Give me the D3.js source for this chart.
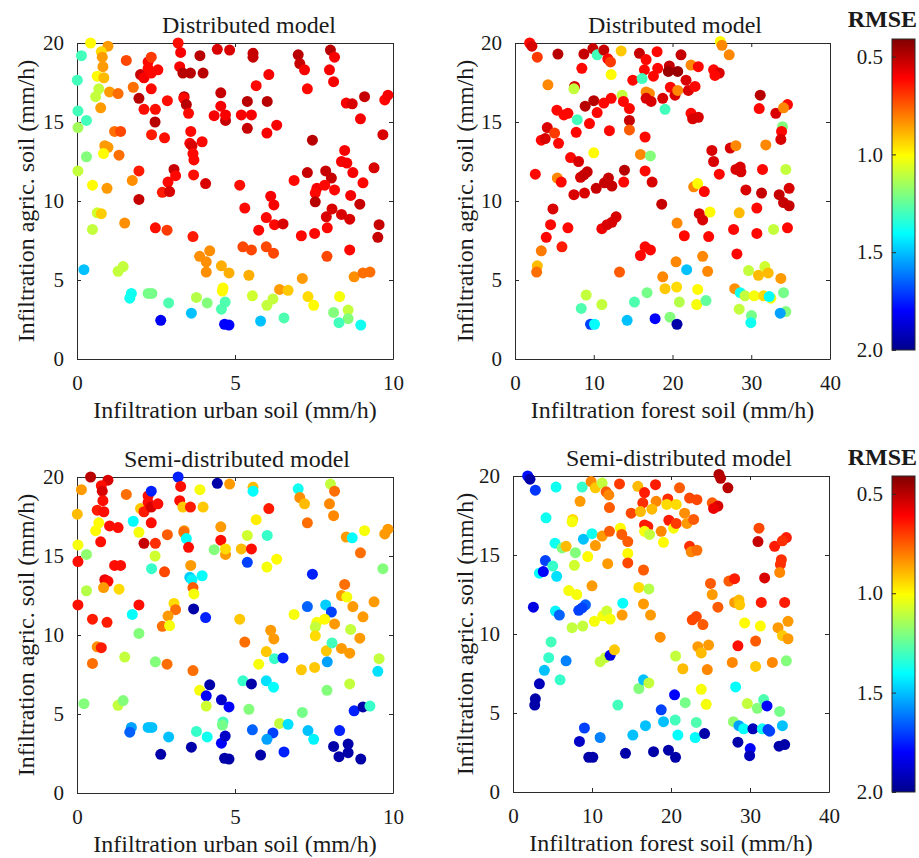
<!DOCTYPE html>
<html>
<head>
<meta charset="utf-8">
<script src="https://cdnjs.cloudflare.com/ajax/libs/d3/7.8.5/d3.min.js"></script>
<style>
  html, body { margin: 0; padding: 0; background: #fff; }
  svg { display: block; }
</style>
</head>
<body>
<div id="chart"></div>
<script>
// Parameter samples shared by the two left panels (urban soil vs agric. soil)
const urbanSoil = [
  0.43, 0.98, 0.14, 0.77, 0.8, 0.82, 0.01, 0.64, 0.85, 0.69,
  0.59, 1.03, 1.3, 0.75, 0.03, 0.3, 0.03, 1.19, 1.38, 0.88,
  0.98, 0.84, 1.33, 0.3, 0.03, 0.49, 0.95, 1.75, 1.96, 1.56,
  1.78, 1.96, 2.12, 2.48, 2.47, 2.36, 2.77, 2.86, 2.01, 2.12,
  2.25, 2.35, 2.25, 2.35, 2.56, 2.35, 3.2, 3.28, 3.25, 3.35,
  3.59, 3.89, 3.99, 3.39, 3.38, 3.46, 3.53, 3.6, 3.57, 3.64,
  3.96, 3.67, 3.7, 3.69, 3.07, 3.12, 2.88, 2.7, 2.93, 4.07,
  4.44, 4.83, 5.57, 5.57, 6.07, 5.67, 4.55, 4.55, 4.34, 4.7,
  5.39, 6.02, 5.2, 5.52, 5.39, 6.01, 6.32, 5.15, 6.13, 7.0,
  7.05, 7.2, 7.29, 8.02, 8.15, 7.99, 8.12, 7.45, 8.52, 8.71,
  9.1, 8.97, 9.74, 9.84, 9.68, 8.47, 8.37, 8.54, 8.73, 9.4,
  9.05, 6.87, 7.29, 7.87, 8.05, 7.59, 7.84, 8.15, 7.54, 8.66,
  4.7,
  1.96, 6.23, 7.54, 8.95, 5.31, 5.99, 6.25, 6.52, 5.75, 7.1,
  7.52, 7.92, 7.89, 8.07, 8.37, 8.63, 9.56, 9.52, 8.63, 7.91,
  5.25, 5.52, 5.99, 6.22, 3.67, 2.48, 2.85, 1.51, 0.64, 0.77,
  0.49, 0.22, 1.3, 1.46, 4.2, 3.88, 4.09, 4.09, 4.57, 4.81,
  5.44, 7.13, 8.77, 9.05, 9.27, 6.41, 6.68, 4.62, 4.6, 5.55,
  7.31, 7.49, 8.31, 8.58, 8.12, 8.58, 8.29, 8.98, 6.2, 6.01,
  6.55, 5.81, 4.67, 4.81, 4.57, 4.69, 4.12, 3.78, 3.62, 2.65,
  2.9, 2.25, 2.37, 1.72, 1.67
];
const agricSoilL = [
  20.0, 19.8, 19.2, 19.45, 19.1, 18.5, 17.65, 17.9, 17.8, 17.1,
  16.6, 16.9, 16.8, 15.9, 15.7, 15.1, 14.65, 14.4, 14.4, 13.5,
  13.4, 13.0, 12.9, 12.8, 11.9, 11.0, 10.8, 11.3, 11.9, 18.9,
  17.2, 16.5, 15.8, 15.8, 15.0, 14.2, 14.0, 16.35, 18.0, 17.8,
  18.8, 19.1, 18.4, 18.1, 18.3, 17.1, 20.0, 19.4, 18.5, 18.1,
  18.1, 19.2, 18.1, 16.6, 16.5, 16.1, 15.55, 14.4, 13.65, 13.5,
  13.75, 13.0, 12.6, 11.65, 12.0, 11.6, 11.2, 10.55, 10.6, 11.1,
  19.6, 19.55, 19.35, 19.1, 18.0, 17.3, 16.85, 16.0, 15.4, 15.1,
  16.3, 16.3, 15.45, 15.45, 14.6, 14.3, 14.8, 11.0, 10.3, 19.25,
  18.7, 18.3, 17.1, 19.55, 19.1, 18.3, 17.55, 13.85, 16.2, 16.15,
  16.6, 15.2, 16.4, 16.7, 14.2, 13.2, 12.5, 12.4, 11.8, 12.1,
  11.15, 11.3, 11.8, 11.9, 11.45, 10.8, 11.0, 10.7, 10.5, 10.35,
  15.45,
  10.1, 9.75, 9.95, 9.8, 9.55, 8.95, 8.5, 8.55, 8.15, 7.8,
  7.95, 8.3, 9.0, 9.5, 9.15, 8.85, 8.5, 7.7, 6.9, 6.5,
  7.1, 6.9, 7.1, 6.7, 7.75, 8.3, 8.15, 8.6, 9.25, 9.2,
  8.2, 5.65, 5.55, 5.85, 6.85, 6.5, 6.15, 5.5, 5.9, 5.45,
  5.3, 5.1, 5.2, 5.45, 5.5, 4.4, 4.35, 4.5, 4.3, 4.0,
  3.95, 3.4, 3.95, 3.1, 2.95, 2.55, 2.3, 2.15, 3.8, 3.4,
  2.6, 2.4, 2.2, 2.15, 3.15, 3.6, 3.55, 3.9, 2.9, 2.45,
  3.55, 4.15, 4.15, 4.15, 3.85
];
const rmseDistL = [
  1.0, 0.85, 1.3, 0.95, 0.85, 0.85, 1.3, 1.0, 0.9, 1.1,
  1.1, 0.85, 0.78, 0.85, 1.3, 1.3, 1.15, 0.78, 0.72, 0.85,
  0.85, 1.0, 0.78, 1.2, 1.1, 1.0, 0.85, 0.83, 0.65, 0.72,
  0.78, 0.5, 0.63, 0.63, 0.5, 0.65, 0.63, 0.63, 0.52, 0.6,
  0.62, 0.7, 0.62, 0.62, 0.62, 0.62, 0.63, 0.6, 0.6, 0.5,
  0.5, 0.5, 0.5, 0.5, 0.62, 0.5, 0.62, 0.62, 0.6, 0.55,
  0.62, 0.62, 0.62, 0.63, 0.52, 0.62, 0.62, 0.65, 0.55, 0.55,
  0.55, 0.55, 0.52, 0.52, 0.6, 0.62, 0.52, 0.6, 0.6, 0.52,
  0.5, 0.5, 0.6, 0.6, 0.52, 0.6, 0.6, 0.63, 0.6, 0.5,
  0.52, 0.6, 0.62, 0.5, 0.6, 0.6, 0.6, 0.5, 0.6, 0.55,
  0.52, 0.6, 0.62, 0.6, 0.55, 0.6, 0.6, 0.6, 0.6, 0.55,
  0.62, 0.62, 0.52, 0.52, 0.52, 0.6, 0.62, 0.62, 0.62, 0.6,
  0.6,
  0.52, 0.6, 0.5, 0.52, 0.62, 0.62, 0.62, 0.55, 0.62, 0.62,
  0.62, 0.62, 0.55, 0.55, 0.55, 0.55, 0.52, 0.52, 0.62, 0.72,
  0.72, 0.72, 0.72, 0.72, 0.65, 0.63, 0.7, 0.83, 1.08, 0.93,
  1.1, 1.5, 1.1, 1.1, 0.83, 0.83, 0.83, 0.83, 0.88, 0.88,
  0.88, 0.85, 0.83, 0.78, 0.78, 0.85, 0.92, 1.0, 1.0, 1.08,
  0.95, 1.0, 1.02, 1.1, 1.2, 1.2, 1.3, 1.38, 1.1, 1.1,
  1.28, 1.5, 1.8, 1.8, 1.28, 1.28, 1.2, 1.12, 1.5, 1.82,
  1.28, 1.22, 1.22, 1.38, 1.38
];
const rmseSemiL = [
  0.5, 0.55, 0.85, 0.63, 0.55, 0.63, 0.9, 0.65, 0.63, 1.0,
  1.0, 0.63, 0.63, 0.63, 1.02, 1.18, 0.63, 0.63, 0.63, 0.58,
  0.62, 0.85, 0.95, 1.12, 0.63, 0.65, 0.65, 1.4, 0.63, 0.78,
  1.4, 1.02, 0.52, 0.68, 1.08, 1.32, 0.72, 0.75, 0.92, 0.65,
  0.63, 1.75, 0.63, 0.55, 0.63, 0.63, 1.75, 0.63, 0.63, 0.92,
  0.65, 1.02, 0.92, 0.83, 0.78, 1.4, 0.63, 0.85, 1.48, 1.42,
  1.4, 0.75, 1.02, 1.95, 0.95, 0.78, 0.85, 0.78, 1.02, 1.75,
  1.95, 0.85, 0.9, 1.4, 0.65, 0.98, 0.85, 0.63, 1.2, 0.85,
  1.08, 1.32, 0.9, 0.63, 1.7, 1.02, 1.0, 0.92, 0.85, 1.38,
  0.83, 0.9, 0.78, 1.1, 0.78, 0.82, 0.82, 1.75, 0.85, 1.4,
  1.02, 0.78, 0.85, 0.85, 1.2, 0.78, 0.85, 1.02, 0.85, 0.85,
  0.85, 1.02, 1.65, 1.48, 1.7, 1.02, 1.0, 0.85, 1.1, 1.1,
  0.95,
  1.2, 0.85, 0.95, 0.85, 0.78, 0.92, 1.32, 1.75, 1.02, 0.92,
  0.92, 1.55, 0.92, 1.3, 0.85, 0.85, 1.1, 1.45, 1.1, 1.2,
  1.32, 1.95, 1.45, 1.4, 0.78, 1.2, 0.78, 1.1, 0.83, 0.65,
  0.78, 1.2, 1.1, 1.2, 1.95, 1.02, 1.8, 1.08, 1.9, 1.8,
  1.2, 1.22, 1.75, 1.95, 1.32, 1.1, 1.45, 1.3, 1.22, 1.65,
  1.5, 1.42, 1.75, 1.95, 1.95, 1.95, 1.95, 1.95, 1.7, 1.55,
  1.75, 1.95, 1.95, 1.95, 1.8, 1.9, 1.38, 1.32, 1.95, 1.95,
  1.5, 1.5, 1.5, 1.55, 1.65
];

// Parameter samples shared by the two right panels (forest soil vs agric. soil)
const forestSoil = [
  1.86, 2.15, 2.83, 5.45, 4.18, 2.58, 3.34, 3.84, 4.1, 5.03,
  5.53, 5.32, 6.21, 6.72, 5.37, 5.87, 7.06, 7.56, 7.48, 7.9,
  7.77, 8.07, 8.32, 9.17, 7.48, 8.83, 8.75, 8.49, 8.91, 9.46,
  9.89, 10.43, 11.28, 11.79, 12.13, 13.48, 12.21, 10.0, 10.43, 11.28,
  12.21, 13.6, 13.77, 14.53, 14.53, 14.53, 11.99, 10.0, 8.75, 10.31,
  11.36, 11.87, 12.3, 13.81, 13.9, 15.8, 16.65, 18.04, 18.12, 16.43,
  14.96, 16.14, 17.58, 19.6, 19.47, 20.66, 21.08, 16.65, 17.07, 16.65,
  17.28, 18.76, 19.05, 19.73, 20.32, 20.66, 21.72, 22.02, 22.86, 22.35,
  23.28, 22.35, 22.56, 23.28, 16.52, 15.93, 17.2, 16.52, 17.41, 18.63,
  22.69, 23.2, 24.04, 26.07, 26.28, 27.2, 25.22, 25.94, 25.39, 25.0,
  25.22, 25.94, 27.33, 28.05, 28.05, 28.6, 28.69, 29.32, 31.14, 31.01,
  33.12, 34.6, 34.1, 33.97, 33.85, 33.76, 31.85, 31.43, 34.39, 31.31,
  33.55, 34.81,
  34.1, 34.81, 4.82, 4.52, 3.97, 5.96, 6.72, 3.34, 2.83, 2.75,
  11.03, 11.7, 12.3, 12.84, 13.27, 15.93, 16.52, 17.2, 20.58, 21.5,
  23.4, 23.83, 24.76, 24.59, 27.76, 28.18, 28.47, 30.71, 30.71, 32.83,
  34.6, 20.45, 23.83, 21.8, 24.46, 18.76, 19.05, 20.53, 23.2, 23.07,
  24.25, 20.87, 19.68, 20.57, 17.79, 16.77, 15.17, 14.24, 9.04, 11.03,
  8.41, 9.59, 10.1, 27.9, 28.6, 29.2, 28.47, 29.66, 30.92, 31.73,
  32.15, 30.37, 31.56, 32.49, 32.28, 30.03, 29.95, 33.76, 34.1, 34.39, 33.68
];
const agricSoilR = [
  20.0, 19.8, 19.1, 19.3, 17.35, 11.7, 13.85, 13.95, 14.65, 14.3,
  13.65, 15.75, 15.45, 15.55, 11.45, 11.2, 12.75, 17.25, 17.1, 15.15,
  14.35, 12.5, 11.5, 11.85, 10.4, 10.5, 19.3, 18.4, 16.0, 14.9,
  19.65, 19.25, 19.55, 19.0, 18.8, 19.5, 18.0, 16.35, 15.6, 16.2,
  16.5, 16.7, 16.3, 15.85, 15.1, 14.5, 14.45, 13.05, 11.65, 10.8,
  11.15, 11.45, 10.95, 11.2, 11.95, 19.35, 18.95, 19.45, 18.4, 18.3,
  17.65, 17.75, 17.9, 18.55, 18.2, 18.2, 19.25, 16.9, 16.8, 16.5,
  16.3, 16.5, 15.8, 17.2, 16.7, 17.0, 17.65, 17.0, 17.25, 18.6,
  18.5, 15.55, 15.2, 15.3, 14.05, 12.95, 12.85, 11.9, 11.2, 9.8,
  10.9, 11.1, 10.6, 20.1, 19.85, 19.25, 18.3, 18.1, 17.95, 13.2,
  12.5, 11.7, 13.35, 13.5, 12.0, 12.15, 11.85, 10.7, 16.7, 15.85,
  15.55, 16.1, 15.9, 14.7, 14.4, 13.9, 13.55, 12.0, 12.0, 10.5,
  10.4, 10.8,
  9.9, 9.7, 9.5, 8.5, 7.7, 7.1, 8.3, 6.85, 5.9, 5.5,
  8.25, 8.5, 8.65, 9.0, 5.5, 6.55, 7.1, 6.9, 8.6, 7.8,
  9.2, 8.8, 9.3, 7.75, 8.2, 6.65, 9.25, 9.55, 7.95, 8.2,
  8.3, 6.15, 6.5, 5.65, 5.55, 5.2, 4.45, 4.55, 4.4, 3.45,
  3.7, 3.6, 2.65, 2.2, 2.55, 4.2, 3.6, 2.45, 4.05, 3.45,
  3.2, 2.2, 2.2, 4.45, 4.2, 4.0, 3.15, 5.6, 5.3, 5.85,
  5.45, 4.0, 4.0, 3.85, 3.95, 2.75, 2.3, 5.1, 4.2, 3.0, 2.9
];
const rmseDistR = [
  0.62, 0.55, 0.7, 0.5, 0.82, 0.62, 0.62, 0.55, 0.55, 0.7,
  0.62, 0.62, 0.62, 0.62, 0.82, 0.62, 0.62, 0.55, 1.1, 1.3,
  0.62, 0.55, 0.55, 0.52, 0.55, 0.55, 0.52, 0.62, 0.5, 0.62,
  0.52, 1.3, 0.52, 0.62, 0.7, 0.92, 1.0, 0.5, 0.62, 0.62,
  0.62, 1.1, 0.62, 0.62, 0.52, 0.75, 0.62, 1.0, 0.52, 0.52,
  0.52, 0.52, 0.52, 0.62, 0.5, 0.52, 0.62, 0.62, 0.62, 0.62,
  0.62, 1.3, 0.62, 0.52, 0.45, 0.45, 0.52, 0.82, 0.82, 0.55,
  0.55, 0.55, 1.3, 0.62, 0.55, 0.82, 0.55, 0.55, 0.62, 0.82,
  0.62, 0.62, 0.55, 0.55, 0.62, 0.82, 1.2, 0.62, 0.55, 0.52,
  0.82, 1.0, 0.62, 1.0, 0.82, 0.82, 0.62, 0.55, 0.62, 0.55,
  0.55, 0.62, 0.55, 0.82, 0.55, 0.55, 0.55, 0.55, 0.5, 0.62,
  0.55, 0.62, 0.82, 1.2, 0.62, 0.55, 0.82, 0.62, 1.1, 0.52,
  0.52, 0.55,
  0.52, 0.52, 0.55, 0.62, 0.62, 0.65, 0.62, 0.8, 0.9, 0.78,
  0.58, 0.55, 0.55, 0.55, 0.75, 0.62, 0.62, 0.62, 0.82, 0.62,
  0.55, 0.55, 1.0, 0.62, 0.62, 0.62, 0.9, 0.62, 0.62, 1.1,
  0.62, 0.82, 0.82, 1.5, 0.82, 0.82, 0.92, 0.95, 1.0, 1.02,
  1.25, 1.12, 1.2, 1.95, 1.8, 1.22, 1.28, 1.5, 1.1, 1.1,
  1.28, 1.7, 1.4, 0.83, 1.38, 1.1, 1.1, 1.1, 0.9, 1.08,
  0.9, 1.02, 0.95, 1.02, 1.4, 1.22, 1.38, 0.85, 1.22, 1.2, 1.55
];
const rmseSemiR = [
  1.78, 1.95, 1.72, 1.38, 1.38, 1.85, 1.4, 1.8, 1.7, 1.32,
  1.45, 1.38, 1.2, 0.9, 1.42, 1.65, 1.02, 0.95, 1.02, 1.2,
  1.08, 1.02, 1.7, 1.65, 1.1, 1.1, 1.32, 0.85, 1.5, 1.0,
  0.82, 0.92, 1.1, 0.75, 0.82, 0.7, 0.75, 1.38, 0.85, 0.85,
  0.75, 1.0, 0.75, 0.75, 1.0, 0.72, 0.85, 0.85, 1.7, 1.02,
  1.02, 1.08, 1.02, 0.85, 1.4, 0.9, 0.65, 0.65, 0.82, 0.68,
  0.72, 0.9, 0.9, 0.68, 0.95, 0.95, 0.75, 0.65, 0.65, 1.02,
  1.1, 0.82, 1.0, 0.65, 1.02, 0.7, 0.83, 0.85, 0.75, 0.72,
  0.72, 0.68, 0.82, 0.78, 0.75, 0.95, 1.12, 0.85, 0.85, 0.83,
  0.72, 0.72, 0.75, 0.48, 0.5, 0.5, 0.75, 0.55, 0.58, 0.75,
  0.85, 0.75, 0.75, 0.65, 0.85, 0.9, 0.92, 1.0, 0.72, 0.52,
  0.65, 0.65, 0.68, 0.68, 0.68, 0.82, 0.55, 0.65, 0.65, 1.0,
  0.85, 0.85,
  0.92, 0.85, 1.3, 1.32, 1.5, 1.32, 1.6, 1.92, 1.95, 1.95,
  1.1, 1.1, 1.85, 0.92, 1.3, 1.2, 1.5, 1.1, 1.1, 0.9,
  0.85, 0.9, 0.85, 0.82, 0.82, 1.4, 0.63, 0.75, 0.92, 0.82,
  1.2, 1.8, 1.02, 1.22, 1.02, 1.7, 1.5, 1.3, 1.28, 1.4,
  1.95, 1.4, 1.95, 1.95, 1.95, 1.5, 1.5, 1.95, 1.7, 1.6,
  1.9, 1.95, 1.95, 1.18, 1.55, 1.4, 1.95, 1.1, 1.2, 1.28,
  1.8, 1.92, 1.38, 1.7, 1.7, 1.8, 1.92, 1.22, 1.5, 1.95, 1.95
];

const agricTicks = [0, 5, 10, 15, 20];
const urbanTicks = [0, 5, 10];
const forestTicks = [0, 10, 20, 30, 40];
const rmseTicks = [0.5, 1.0, 1.5, 2.0];
const rmseRange = [0.41, 2.0];
const modelTitles = ['Distributed model', 'Semi-distributed model'];
const xTitles = ['Infiltration urban soil (mm/h)', 'Infiltration forest soil (mm/h)'];
const yTitle = 'Infiltration agric. soil (mm/h)';

const d3 = window.d3;
const W = 919, H = 858;
const FONT = "'Liberation Serif', 'Times New Roman', serif";
const INK = '#1a1a1a';
const AXIS = '#2b2b2b';

// reversed jet colormap: low RMSE dark red, high RMSE dark blue
const jetValues = [2.0, 1.8, 1.404, 1.006, 0.609, 0.41];
const jetColors = ['#00008c', '#0000ff', '#00ffff', '#ffff00', '#ff0000', '#800000'];
const color = d3.scaleLinear().domain(jetValues).range(jetColors).clamp(true);

const svg = d3.select('#chart').append('svg')
  .attr('width', W).attr('height', H)
  .attr('font-family', FONT);

const panels = [
  { x0: 77, x1: 393, y0: 43, y1: 359, xs: urbanSoil, ys: agricSoilL, vals: rmseDistL,
    xDom: [0, 10], xTicks: urbanTicks, title: modelTitles[0], titleX: 249, xTitle: xTitles[0], yTitleX: 34 },
  { x0: 515, x1: 830, y0: 43, y1: 359, xs: forestSoil, ys: agricSoilR, vals: rmseDistR,
    xDom: [0, 40], xTicks: forestTicks, title: modelTitles[0], titleX: 675, xTitle: xTitles[1], yTitleX: 473 },
  { x0: 77, x1: 393, y0: 477, y1: 793, xs: urbanSoil, ys: agricSoilL, vals: rmseSemiL,
    xDom: [0, 10], xTicks: urbanTicks, title: modelTitles[1], titleX: 237, xTitle: xTitles[0], yTitleX: 34 },
  { x0: 513, x1: 829, y0: 476, y1: 792, xs: forestSoil, ys: agricSoilR, vals: rmseSemiR,
    xDom: [0, 40], xTicks: forestTicks, title: modelTitles[1], titleX: 679, xTitle: xTitles[1], yTitleX: 473 }
];

function styleAxis(sel) {
  sel.selectAll('path.domain').attr('stroke', AXIS).attr('stroke-width', 1);
  sel.selectAll('.tick line').attr('stroke', AXIS).attr('stroke-width', 1);
  sel.selectAll('.tick text')
    .attr('font-family', FONT).attr('font-size', '21px').attr('fill', INK);
}

function drawPanel(p) {
  const x = d3.scaleLinear().domain(p.xDom).range([p.x0, p.x1]);
  const y = d3.scaleLinear().domain([0, 20]).range([p.y1, p.y0]);
  const g = svg.append('g');

  // box with inward ticks on all four sides
  g.append('g').attr('transform', `translate(0,${p.y1})`)
    .call(d3.axisBottom(x).tickValues(p.xTicks).tickSizeInner(-4).tickSizeOuter(0).tickPadding(16))
    .call(styleAxis);
  g.append('g').attr('transform', `translate(0,${p.y0})`)
    .call(d3.axisTop(x).tickValues(p.xTicks).tickSizeInner(-4).tickSizeOuter(0).tickFormat(''))
    .call(styleAxis);
  g.append('g').attr('transform', `translate(${p.x0},0)`)
    .call(d3.axisLeft(y).tickValues(agricTicks).tickSizeInner(-4).tickSizeOuter(0).tickPadding(13))
    .call(styleAxis);
  g.append('g').attr('transform', `translate(${p.x1},0)`)
    .call(d3.axisRight(y).tickValues(agricTicks).tickSizeInner(-4).tickSizeOuter(0).tickFormat(''))
    .call(styleAxis);

  const pts = d3.range(Math.min(p.xs.length, p.ys.length, p.vals.length));
  g.append('g').selectAll('circle')
    .data(pts).enter().append('circle')
    .attr('cx', i => x(p.xs[i]))
    .attr('cy', i => y(p.ys[i]))
    .attr('r', 5.5)
    .attr('fill', i => color(p.vals[i]));

  g.append('text')
    .attr('x', p.titleX).attr('y', p.y0 - 10)
    .attr('text-anchor', 'middle').attr('font-size', '24px').attr('fill', INK)
    .text(p.title);
  g.append('text')
    .attr('x', (p.x0 + p.x1) / 2).attr('y', p.y1 + 59)
    .attr('text-anchor', 'middle').attr('font-size', '24px').attr('fill', INK)
    .text(p.xTitle);
  g.append('text')
    .attr('transform', `translate(${p.yTitleX},${(p.y0 + p.y1) / 2}) rotate(-90)`)
    .attr('text-anchor', 'middle').attr('font-size', '24px').attr('fill', INK)
    .text(yTitle);
}

panels.forEach(drawPanel);

// colorbars
const bars = [
  { x0: 892, x1: 915, y0: 39, y1: 350, labelY: 27, id: 'cbTop' },
  { x0: 892, x1: 915, y0: 476, y1: 792, labelY: 465, id: 'cbBottom' }
];

bars.forEach(cb => {
  const cy = d3.scaleLinear().domain(rmseRange).range([cb.y0, cb.y1]);
  const grad = svg.append('defs').append('linearGradient')
    .attr('id', cb.id).attr('gradientUnits', 'userSpaceOnUse')
    .attr('x1', 0).attr('x2', 0).attr('y1', cb.y0).attr('y2', cb.y1);
  grad.selectAll('stop')
    .data(jetValues.slice().reverse()).enter().append('stop')
    .attr('offset', v => (cy(v) - cb.y0) / (cb.y1 - cb.y0))
    .attr('stop-color', v => color(v));

  svg.append('rect')
    .attr('x', cb.x0).attr('y', cb.y0)
    .attr('width', cb.x1 - cb.x0).attr('height', cb.y1 - cb.y0)
    .attr('fill', `url(#${cb.id})`)
    .attr('stroke', AXIS).attr('stroke-width', 1);

  svg.append('g').attr('transform', `translate(${cb.x0},0)`)
    .call(d3.axisLeft(cy).tickValues(rmseTicks).tickFormat(d3.format('.1f'))
      .tickSizeInner(-4).tickSizeOuter(0).tickPadding(9))
    .call(styleAxis)
    .call(a => a.select('path.domain').remove());

  svg.append('text')
    .attr('x', 917).attr('y', cb.labelY)
    .attr('text-anchor', 'end').attr('font-size', '24px').attr('font-weight', 'bold')
    .attr('fill', INK)
    .text('RMSE');
});
</script>
</body>
</html>
